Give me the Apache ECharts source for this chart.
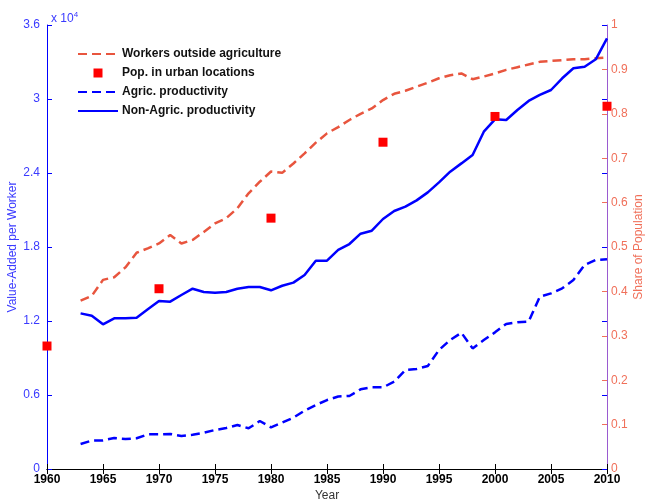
<!DOCTYPE html>
<html>
<head>
<meta charset="utf-8">
<script src="https://cdn.jsdelivr.net/npm/echarts@6/dist/echarts.min.js"></script>
<style>
  html, body { margin: 0; padding: 0; background: #fff; }
  #chart { width: 647px; height: 501px; }
</style>
</head>
<body>
<div id="chart"></div>
<script>
// Years covered by the annual series
const years = [1963,1964,1965,1966,1967,1968,1969,1970,1971,1972,1973,1974,1975,1976,1977,1978,1979,1980,
  1981,1982,1983,1984,1985,1986,1987,1988,1989,1990,1991,1992,1993,1994,1995,1996,1997,1998,1999,2000,
  2001,2002,2003,2004,2005,2006,2007,2008,2009,2010];

// Share of workers outside agriculture (right axis)
const workersOutsideAg = [0.379,0.390,0.426,0.432,0.454,0.487,0.497,0.508,0.527,0.508,0.516,0.534,0.553,0.565,0.587,0.621,0.647,0.670,
  0.667,0.688,0.711,0.735,0.756,0.770,0.786,0.800,0.812,0.831,0.845,0.852,0.861,0.870,0.880,0.887,0.891,0.878,0.884,0.891,
  0.899,0.905,0.911,0.917,0.919,0.921,0.923,0.923,0.925,0.927];

// Urban population share, census years (right axis)
const censusYears = [1960,1970,1980,1990,2000,2010];
const urbanShare = [0.277,0.406,0.565,0.736,0.794,0.817];

// Value added per worker, in units of 10^4 (left axis)
const agricProd = [0.203,0.230,0.232,0.251,0.243,0.249,0.281,0.281,0.284,0.268,0.278,0.294,0.316,0.332,0.357,0.330,0.389,0.338,
  0.376,0.416,0.473,0.519,0.559,0.588,0.592,0.646,0.662,0.662,0.708,0.803,0.811,0.835,0.965,1.046,1.105,0.978,1.046,1.108,
  1.176,1.190,1.195,1.397,1.424,1.465,1.532,1.654,1.695,1.700];
const nonAgricProd = [1.262,1.243,1.173,1.222,1.222,1.227,1.295,1.362,1.357,1.411,1.462,1.435,1.430,1.435,1.462,1.476,1.476,1.449,
  1.486,1.511,1.573,1.689,1.689,1.776,1.824,1.908,1.932,2.027,2.092,2.127,2.178,2.243,2.324,2.411,2.478,2.546,2.735,2.835,
  2.830,2.911,2.984,3.033,3.073,3.168,3.249,3.262,3.322,3.492];

const pairs = (xs, ys) => xs.map((x, i) => [x, ys[i]]);

const BLUE = '#0000ff';
const BLUE_TXT = '#3a3aff';
const RED_LINE = '#e8553e';
const RED_TXT = '#f0705a';
const URBAN_RED = '#ff0000';
const FONT = 'Liberation Sans, Arial, sans-serif';

const chart = echarts.init(document.getElementById('chart'), null, { renderer: 'canvas' });

const xCommon = {
  type: 'value', min: 1960, max: 2010, interval: 5,
  splitLine: { show: false },
  axisLine: { show: true, lineStyle: { color: '#000', width: 1 } },
  axisTick: { show: true, inside: true, length: 5, lineStyle: { color: '#000' } }
};

const hiddenSymbol = { opacity: 0 };

chart.setOption({
  animation: false,
  backgroundColor: '#fff',
  textStyle: { fontFamily: FONT },
  title: {
    text: '{a|x 10}{b|4}',
    left: 46, top: 6,
    textStyle: {
      rich: {
        a: { fontFamily: FONT, fontSize: 12, fontWeight: 'normal', color: BLUE_TXT },
        b: { fontFamily: FONT, fontSize: 8, fontWeight: 'normal', color: BLUE_TXT, verticalAlign: 'top', padding: [0, 0, 8, 0] }
      }
    }
  },
  legend: {
    orient: 'vertical',
    left: 77, top: 48, padding: 0,
    itemWidth: 40, itemHeight: 9, itemGap: 7,
    symbolKeepAspect: true,
    textStyle: { fontFamily: FONT, fontSize: 12, fontWeight: 'bold', color: '#111', padding: [0, 0, 0, -1] },
    data: [
      { name: 'Workers outside agriculture', itemStyle: hiddenSymbol },
      { name: 'Pop. in urban locations', icon: 'path://M0,0L10,0L10,10L0,10Z',
        itemStyle: { color: URBAN_RED, opacity: 1 } },
      { name: 'Agric. productivity', itemStyle: hiddenSymbol },
      { name: 'Non-Agric. productivity', itemStyle: hiddenSymbol }
    ]
  },
  grid: { left: 47, right: 40, top: 25, bottom: 32, containLabel: false, outerBoundsMode: 'none' },
  xAxis: [
    Object.assign({}, xCommon, {
      position: 'bottom',
      name: 'Year', nameLocation: 'middle', nameGap: 21, nameMoveOverlap: false,
      nameTextStyle: { fontFamily: FONT, fontSize: 12, color: '#333' },
      axisLabel: { fontFamily: FONT, fontSize: 12, fontWeight: 'bold', color: '#000', margin: 5,
        formatter: v => String(v) }
    }),
    Object.assign({}, xCommon, { position: 'top', axisLabel: { show: false } })
  ],
  yAxis: [
    {
      type: 'value', position: 'left', min: 0, max: 3.6, interval: 0.6,
      name: 'Value-Added per Worker', nameLocation: 'middle', nameGap: 28, nameRotate: 90,
      nameMoveOverlap: false,
      nameTextStyle: { fontFamily: FONT, fontSize: 12, color: BLUE_TXT },
      splitLine: { show: false },
      axisLine: { show: true, lineStyle: { color: BLUE } },
      axisTick: { show: true, inside: true, length: 5, lineStyle: { color: BLUE } },
      axisLabel: { fontFamily: FONT, fontSize: 12, color: BLUE_TXT, margin: 7,
        formatter: v => String(+v.toFixed(1)) }
    },
    {
      type: 'value', position: 'right', min: 0, max: 1, interval: 0.1,
      name: 'Share of Population', nameLocation: 'middle', nameGap: 26, nameRotate: 90,
      nameMoveOverlap: false,
      nameTextStyle: { fontFamily: FONT, fontSize: 12, color: RED_TXT },
      splitLine: { show: false },
      axisLine: { show: true, lineStyle: { color: '#9a5ad0' } },
      axisTick: { show: true, inside: true, length: 5, lineStyle: { color: RED_TXT } },
      axisLabel: { fontFamily: FONT, fontSize: 12, color: RED_TXT, margin: 4,
        formatter: v => String(+v.toFixed(1)) }
    },
    {
      // mirrored value-added ticks on the right edge of the box
      type: 'value', position: 'right', min: 0, max: 3.6, interval: 0.6,
      splitLine: { show: false },
      axisLine: { show: false },
      axisTick: { show: true, inside: true, length: 5, lineStyle: { color: BLUE } },
      axisLabel: { show: false }
    }
  ],
  series: [
    {
      name: 'Workers outside agriculture', type: 'line', xAxisIndex: 0, yAxisIndex: 1,
      data: pairs(years, workersOutsideAg), symbol: 'none', z: 3,
      lineStyle: { color: RED_LINE, width: 2.5, type: [9, 5] },
      itemStyle: { color: RED_LINE }
    },
    {
      name: 'Pop. in urban locations', type: 'scatter', xAxisIndex: 0, yAxisIndex: 1,
      data: pairs(censusYears, urbanShare), symbol: 'rect', symbolSize: 9, z: 4,
      itemStyle: { color: URBAN_RED, opacity: 1 }
    },
    {
      name: 'Agric. productivity', type: 'line', xAxisIndex: 0, yAxisIndex: 0,
      data: pairs(years, agricProd), symbol: 'none', z: 3,
      lineStyle: { color: BLUE, width: 2.5, type: [9, 5] },
      itemStyle: { color: BLUE }
    },
    {
      name: 'Non-Agric. productivity', type: 'line', xAxisIndex: 0, yAxisIndex: 0,
      data: pairs(years, nonAgricProd), symbol: 'none', z: 3,
      lineStyle: { color: BLUE, width: 2.5 },
      itemStyle: { color: BLUE }
    }
  ]
});
</script>
</body>
</html>
